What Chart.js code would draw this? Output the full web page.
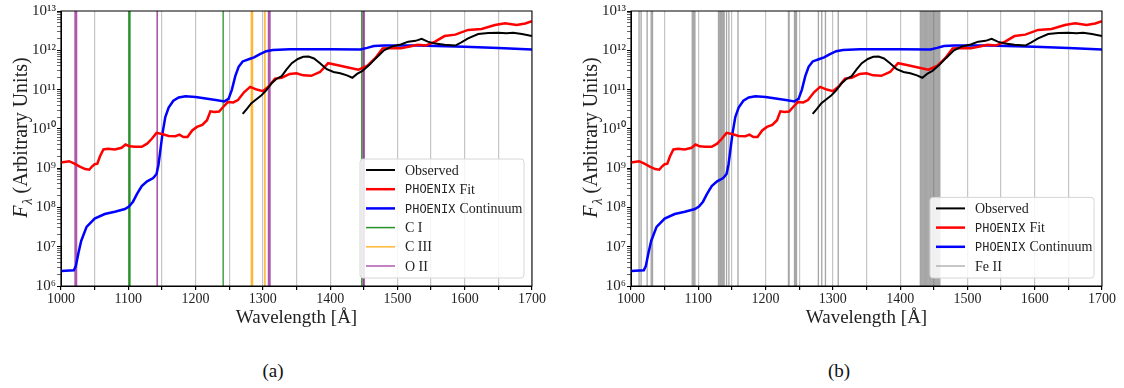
<!DOCTYPE html>
<html>
<head>
<meta charset="utf-8">
<script src="https://cdn.jsdelivr.net/npm/chart.js@4.4.0/dist/chart.umd.min.js"></script>
<style>
body{margin:0;background:#fff;width:1124px;height:388px;overflow:hidden;position:relative;font-family:"Liberation Serif",serif}
.panel{position:absolute;top:0}
.cap{position:absolute;top:360px;font-size:19px;color:#111;transform:translateX(-50%)}
</style>
</head>
<body>
<canvas id="chart-a" class="panel" width="562" height="330" style="left:0"></canvas>
<canvas id="chart-b" class="panel" width="554" height="330" style="left:570px"></canvas>
<div class="cap" style="left:273px">(a)</div>
<div class="cap" style="left:839px">(b)</div>
<script>
// observed spectrum (only starts at 1270 A)
const obsWave = [1270,1276,1283,1290,1298,1305,1313,1320,1328,1335,1343,1352,1360,1368,1376,1385,1395,1405,1415,1425,1433,1440,1448,1458,1468,1480,1492,1505,1516,1527,1536,1545,1556,1570,1586,1595,1605,1620,1635,1650,1662,1672,1685,1700];
const obsFlux = [2.4e10,3.2e10,4.5e10,5.6e10,7.2e10,9.5e10,1.45e11,1.86e11,2.2e11,3.2e11,4.7e11,6e11,6.8e11,6.9e11,6.2e11,4.7e11,3.3e11,2.8e11,2.6e11,2.3e11,2e11,2.5e11,3e11,4.2e11,6.3e11,1e12,1.26e12,1.41e12,1.66e12,1.74e12,1.95e12,1.66e12,1.48e12,1.38e12,1.32e12,1.58e12,2e12,2.6e12,2.75e12,2.8e12,2.7e12,2.8e12,2.6e12,2.3e12];

// PHOENIX fit
const fitWave = [1000,1012,1020,1028,1036,1042,1046,1050,1054,1058,1063,1070,1080,1090,1096,1102,1110,1120,1128,1135,1142,1150,1160,1170,1176,1182,1188,1195,1202,1210,1217,1222,1228,1235,1241,1248,1256,1263,1272,1281,1291,1300,1310,1318,1328,1340,1350,1360,1372,1385,1397,1410,1425,1442,1455,1467,1478,1490,1505,1520,1530,1542,1556,1570,1586,1605,1625,1645,1660,1677,1690,1700];
const fitFlux = [1.4e9,1.5e9,1.3e9,1.1e9,9.5e8,9.1e8,1.1e9,1.26e9,1.3e9,2e9,3e9,3.1e9,3e9,3.3e9,4e9,3.6e9,3.5e9,3.5e9,4.2e9,5.6e9,7.9e9,7.4e9,6.6e9,6.5e9,7.1e9,6.2e9,6.2e9,9.1e9,1.12e10,1.26e10,1.66e10,2.8e10,2.7e10,2.75e10,3.6e10,4.8e10,4.7e10,5.4e10,8.5e10,1.17e11,1e11,9.1e10,1.26e11,1.9e11,2e11,2.5e11,2.6e11,2.3e11,2.24e11,2.8e11,4.7e11,4.2e11,3.7e11,3.2e11,4e11,6.3e11,1.12e12,1.15e12,1.12e12,1.26e12,1.38e12,1.32e12,1.66e12,2.3e12,2.5e12,3.3e12,3.5e12,4.4e12,4.9e12,4.4e12,4.8e12,5.5e12];

// PHOENIX continuum
const contWave = [1000,1019,1022,1026,1030,1038,1050,1065,1080,1095,1101,1107,1113,1120,1128,1137,1142,1145,1148,1151,1155,1160,1167,1175,1185,1200,1215,1230,1243,1249,1254,1259,1264,1270,1280,1287,1295,1305,1315,1340,1400,1445,1455,1465,1480,1530,1600,1650,1700];
const contFlux = [2.4e6,2.5e6,3.2e6,7e6,1.4e7,3.2e7,5.2e7,6.8e7,7.8e7,9.1e7,1.05e8,1.4e8,2.2e8,3.5e8,4.6e8,5.6e8,7.1e8,1.26e9,3.2e9,7.9e9,2e10,3.5e10,5.2e10,6.3e10,6.8e10,6.5e10,5.9e10,5.4e10,5e10,5.8e10,1e11,2.2e11,3.8e11,5.2e11,6e11,6.6e11,7.9e11,9.5e11,1.02e12,1.07e12,1.07e12,1.05e12,1.15e12,1.29e12,1.32e12,1.32e12,1.23e12,1.15e12,1.05e12];

// line positions (A)
const linesCI = [1101,1102.5,1241,1447];
const linesCIII = [1283,1284.5,1303];
const linesOII = [1021,1023,1143,1308.5,1310.5,1449,1450.5];
const linesFeII = [1012,1015,1024,1030,1032,1091,1093,1095,1130,1132,1133.5,1135,1137,1138.5,1142,1145.5,1159,1234,1235,1243,1244.5,1246,1278.5,1283.5,1289,1308,1430,1432,1434,1436,1437.5,1439,1441,1443,1445,1447,1449,1451,1453,1455,1457,1459];

// axes
const xGridTicks = [1000,1050,1100,1150,1200,1250,1300,1350,1400,1450,1500,1550,1600,1650,1700];
const xTickLabels = [1000,1100,1200,1300,1400,1500,1600,1700];
const yMajorTicks = [1e6,1e7,1e8,1e9,1e10,1e11,1e12,1e13];
const yTickLabels = ['10\u2076','10\u2077','10\u2078','10\u2079','10\u00b9\u2070','10\u00b9\u00b9','10\u00b9\u00b2','10\u00b9\u00b3'];

const serif = '"Liberation Serif", "Times New Roman", serif';
const mono = '"Liberation Mono", "DejaVu Sans Mono", monospace';
const yMin = 1e6, yMax = 1e13;

function curve(label, wave, flux, color, width) {
    return {label, data: wave.map((w, i) => ({x: w, y: flux[i]})), borderColor: color, borderWidth: width, legendWidth: width, pointRadius: 0, tension: 0};
}
function marks(label, waves, color, width) {
    let pts = [];
    waves.forEach(w => { pts.push({x: w, y: yMin}, {x: w, y: yMax}, {x: w, y: null}); });
    return {label, data: pts, borderColor: color, borderWidth: width, legendWidth: 1.5, pointRadius: 0, spanGaps: false};
}

const frameAndLegend = {
    id: 'frameAndLegend',
    afterDraw(chart) {
        const {ctx, chartArea: a} = chart;
        ctx.save();
        ctx.strokeStyle = '#000';
        ctx.lineWidth = 1;
        ctx.strokeRect(a.left, a.top, a.right - a.left, a.bottom - a.top);

        // legend box, bottom right
        const items = chart.data.datasets;
        const rowH = 19.2, w = 164;
        const h = 23 + (items.length - 1) * rowH;
        const x0 = a.right - 8 - w, y0 = a.bottom - 8 - h;
        ctx.beginPath();
        ctx.roundRect(x0, y0, w, h, 3);
        ctx.fillStyle = 'rgba(255,255,255,0.85)';
        ctx.fill();
        ctx.strokeStyle = '#d6d6d6';
        ctx.stroke();
        items.forEach((d, i) => {
            const y = y0 + 11 + i * rowH;
            ctx.beginPath();
            ctx.moveTo(x0 + 6, y);
            ctx.lineTo(x0 + 35, y);
            ctx.strokeStyle = d.legendColor || d.borderColor;
            ctx.lineWidth = d.legendWidth;
            ctx.stroke();
            ctx.fillStyle = '#222';
            ctx.textBaseline = 'middle';
            let tx = x0 + 45;
            let txt = d.label;
            if (txt.startsWith('PHOENIX')) {
                ctx.font = '12px ' + mono;
                ctx.fillText('PHOENIX', tx, y + 1);
                tx += ctx.measureText('PHOENIX').width + 4;
                txt = txt.slice(8);
            }
            ctx.font = '14px ' + serif;
            ctx.fillText(txt, tx, y + 1);
        });

        // y axis title with subscript lambda
        ctx.translate(22, 138);
        ctx.rotate(-Math.PI / 2);
        ctx.fillStyle = '#222';
        ctx.textBaseline = 'middle';
        ctx.font = 'italic 20px ' + serif;
        const wF = ctx.measureText('F').width;
        ctx.font = 'italic 14px ' + serif;
        const wL = ctx.measureText('\u03bb').width;
        ctx.font = '20px ' + serif;
        const rest = ' (Arbitrary Units)';
        const wR = ctx.measureText(rest).width;
        let x = -(wF + wL + wR) / 2;
        ctx.font = 'italic 20px ' + serif;
        ctx.fillText('F', x, 0);
        x += wF + 1;
        ctx.font = 'italic 14px ' + serif;
        ctx.fillText('\u03bb', x, 6);
        x += wL;
        ctx.font = '20px ' + serif;
        ctx.fillText(rest, x, 0);
        ctx.restore();
    }
};

function makeChart(id, lineSets, padRight) {
    const datasets = [
        curve('Observed', obsWave, obsFlux, '#000000', 2),
        curve('PHOENIX Fit', fitWave, fitFlux, '#ff0000', 2.5),
        curve('PHOENIX Continuum', contWave, contFlux, '#0000ff', 2.5)
    ].concat(lineSets);
    return new Chart(document.getElementById(id), {
        type: 'line',
        data: {datasets},
        options: {
            responsive: false,
            devicePixelRatio: 1,
            animation: false,
            layout: {padding: {top: 11, right: padRight, left: 0, bottom: 0}},
            plugins: {legend: {display: false}, tooltip: {enabled: false}},
            scales: {
                x: {
                    type: 'linear', min: 1000, max: 1700,
                    afterBuildTicks: s => { s.ticks = xGridTicks.map(v => ({value: v})); },
                    afterFit: s => { s.height = 44; },
                    ticks: {
                        callback: v => xTickLabels.includes(v) ? String(v) : '',
                        autoSkip: false, maxRotation: 0, padding: 1,
                        font: {family: serif, size: 14}, color: '#222'
                    },
                    grid: {color: 'rgba(150,150,150,0.55)', lineWidth: 1.2, tickLength: 4, tickColor: '#000'},
                    border: {color: '#000'},
                    title: {display: true, text: 'Wavelength [\u00c5]', font: {family: serif, size: 19}, color: '#222', padding: {top: 0, bottom: 1}}
                },
                y: {
                    type: 'logarithmic', min: yMin, max: yMax,
                    afterBuildTicks: s => {
                        let t = [];
                        yMajorTicks.forEach((v, i) => {
                            t.push({value: v, major: true});
                            if (i < yMajorTicks.length - 1) {
                                for (let m = 2; m < 10; m++) t.push({value: m * v, major: false});
                            }
                        });
                        s.ticks = t;
                    },
                    afterFit: s => { s.width = 61; },
                    ticks: {
                        callback: v => { const i = yMajorTicks.indexOf(v); return i >= 0 ? yTickLabels[i] : ''; },
                        autoSkip: false, padding: 1,
                        font: {family: serif, size: 15}, color: '#222'
                    },
                    grid: {drawOnChartArea: false, tickLength: 4, tickColor: '#000', tickWidth: c => (c.tick && c.tick.major) ? 1 : 0.6},
                    border: {color: '#000'}
                }
            }
        },
        plugins: [frameAndLegend]
    });
}

const chartA = makeChart('chart-a', [
    marks('C I', linesCI, 'rgba(0,128,0,0.85)', 1.3),
    marks('C III', linesCIII, 'rgba(255,165,0,0.8)', 1.6),
    marks('O II', linesOII, 'rgba(128,0,128,0.65)', 1.6)
], 30);

const chartB = makeChart('chart-b', [
    Object.assign(marks('Fe II', linesFeII, 'rgba(105,105,105,0.6)', 1.3), {legendColor: 'rgba(150,150,150,0.7)'})
], 22);
</script>
</body>
</html>
